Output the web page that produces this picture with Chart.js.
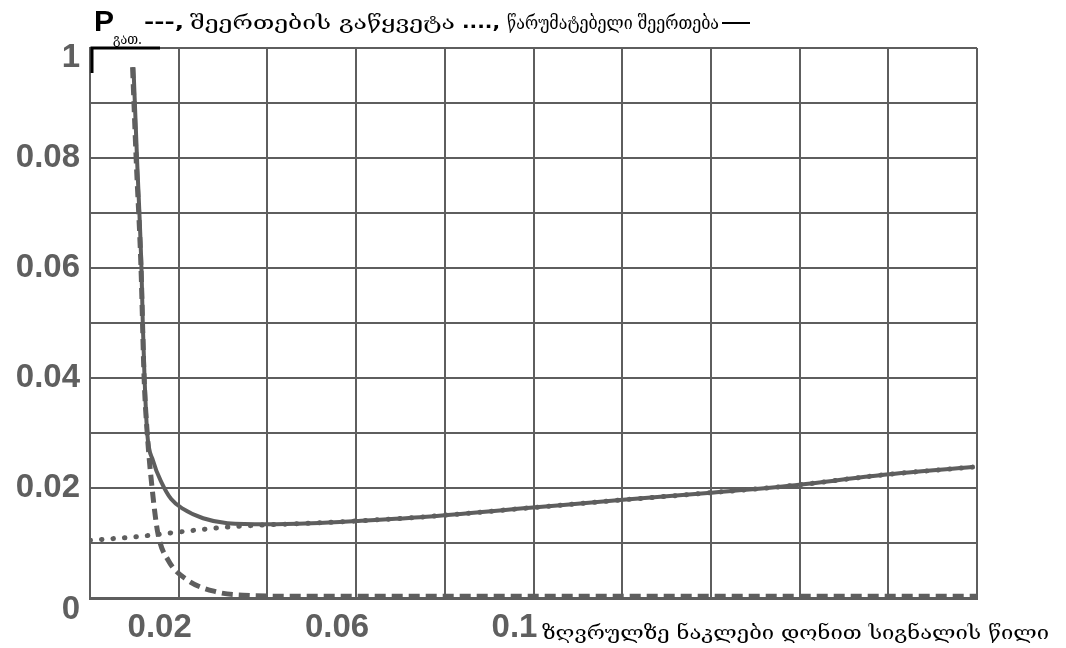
<!DOCTYPE html>
<html>
<head>
<meta charset="utf-8">
<script src="https://cdn.jsdelivr.net/npm/chart.js@4"></script>
<style>
  body { margin: 0; background: #fff; }
</style>
</head>
<body>
<canvas id="mainChart" width="1066" height="648"></canvas>
<script>
// tick labels as printed on the original plot (top label really reads "1")
var yTickLabels = ['0', '', '0.02', '', '0.04', '', '0.06', '', '0.08', '', '1'];
var xTickLabels = ['', '0.02', '', '0.06', '', '0.1', '', '', '', '', ''];

// dashed curve: შეერთების გაწყვეტა
var breakX = [0.0096, 0.0104, 0.0115, 0.0122, 0.0129, 0.0140, 0.0153, 0.0176, 0.0219, 0.0286, 0.0345, 0.05, 0.08, 0.12, 0.16, 0.2];
var breakY = [0.0965, 0.080, 0.060, 0.040, 0.030, 0.020, 0.0118, 0.0069, 0.0033, 0.0011, 0.0005, 0.0003, 0.0003, 0.0003, 0.0003, 0.0003];

// dotted curve: წარუმატებელი შეერთება
var failX = [0, 0.01, 0.02, 0.031, 0.04, 0.05, 0.06, 0.0744, 0.0992, 0.1195, 0.1393, 0.159, 0.179, 0.199];
var failY = [0.0105, 0.0111, 0.0120, 0.0129, 0.0133, 0.0136, 0.0140, 0.0147, 0.0164, 0.0178, 0.0191, 0.0205, 0.0224, 0.0238];

// solid curve: total
var totalX = [0.0098, 0.0106, 0.0116, 0.0119, 0.0123, 0.0129, 0.0142, 0.0162, 0.0183, 0.021, 0.0255, 0.031, 0.04, 0.05, 0.06, 0.0744, 0.0992, 0.1195, 0.1393, 0.159, 0.179, 0.199];
var totalY = [0.0965, 0.080, 0.060, 0.050, 0.040, 0.030, 0.0250, 0.0209, 0.0180, 0.0162, 0.0145, 0.0136, 0.0134, 0.0136, 0.0140, 0.0147, 0.0164, 0.0178, 0.0191, 0.0205, 0.0224, 0.0238];

function toPoints(xs, ys) {
    return xs.map(function (x, i) { return { x: x, y: ys[i] }; });
}

var gray = '#5e5e5e';
var tickFont = { family: 'Liberation Sans', size: 33, weight: 'bold' };

// draws the header, axis caption and the black corner mark
var textPlugin = {
    id: 'texts',
    afterDraw: function (chart) {
        var ctx = chart.ctx;
        var area = chart.chartArea;

        function fitText(str, x, y, w, font) {
            ctx.font = font;
            var m = ctx.measureText(str).width;
            ctx.save();
            ctx.translate(x, y);
            ctx.scale(w / m, 1);
            ctx.fillText(str, 0, 0);
            ctx.restore();
        }

        ctx.save();
        ctx.fillStyle = '#000';
        ctx.textBaseline = 'alphabetic';
        ctx.textAlign = 'left';

        ctx.font = 'bold 30px "Liberation Sans"';
        ctx.fillText('P', 94, 31);
        fitText('გათ.', 113, 44, 29, '14px "DejaVu Serif"');
        fitText('---,', 144, 28, 40, 'bold 18px "DejaVu Sans"');
        fitText('შეერთების გაწყვეტა', 190, 29, 265, '19px "DejaVu Serif"');
        fitText('....,', 462, 28, 38, 'bold 18px "DejaVu Sans"');
        fitText('წარუმატებელი შეერთება', 507, 29, 212, '19px "DejaVu Serif"');
        ctx.fillRect(722, 22, 28, 2);

        fitText('ზღვრულზე ნაკლები დონით სიგნალის წილი', 542, 639, 507, '18px "DejaVu Serif"');

        // black corner at top-left of the plot frame
        ctx.strokeStyle = '#000';
        ctx.lineWidth = 3;
        ctx.beginPath();
        ctx.moveTo(area.left + 2, area.top + 25);
        ctx.lineTo(area.left + 2, area.top);
        ctx.lineTo(area.left + 70, area.top);
        ctx.stroke();
        ctx.restore();
    }
};

function standard_graph() {
    var ctx = document.getElementById('mainChart').getContext('2d');

    var chart = new Chart(ctx, {
        type: 'line',
        data: {
            datasets: [{
                label: 'შეერთების გაწყვეტა',
                data: toPoints(breakX, breakY),
                borderColor: gray,
                borderWidth: 5,
                borderDash: [11, 6],
                pointRadius: 0,
                cubicInterpolationMode: 'monotone'
            }, {
                label: 'წარუმატებელი შეერთება',
                data: toPoints(failX, failY),
                borderColor: gray,
                borderWidth: 5,
                borderDash: [0.5, 11],
                borderCapStyle: 'round',
                pointRadius: 0,
                cubicInterpolationMode: 'monotone'
            }, {
                label: 'ჯამი',
                data: toPoints(totalX, totalY),
                borderColor: gray,
                borderWidth: 4,
                pointRadius: 0,
                cubicInterpolationMode: 'monotone'
            }]
        },
        options: {
            responsive: false,
            animation: false,
            layout: { padding: { left: 0, right: 89, top: 48, bottom: 0 } },
            plugins: {
                legend: { display: false },
                tooltip: { enabled: false }
            },
            scales: {
                x: {
                    type: 'linear',
                    min: 0,
                    max: 0.2,
                    afterFit: function (scale) { scale.height = 50; },
                    ticks: {
                        stepSize: 0.02,
                        autoSkip: false,
                        maxRotation: 0,
                        padding: 10,
                        labelOffset: -19,
                        color: '#5f5f5f',
                        font: tickFont,
                        callback: function (v, i) { return xTickLabels[i]; }
                    },
                    grid: { color: gray, lineWidth: 2, drawTicks: false },
                    border: { color: gray, width: 3 }
                },
                y: {
                    min: 0,
                    max: 0.1,
                    afterFit: function (scale) { scale.width = 90; },
                    ticks: {
                        stepSize: 0.01,
                        autoSkip: false,
                        padding: 10,
                        color: '#5f5f5f',
                        // end labels sit a little below their grid line in the original
                        font: function (c) {
                            var last = yTickLabels.length - 1;
                            if (c.index === 0) return Object.assign({}, tickFont, { lineHeight: '24px' });
                            if (c.index === last) return Object.assign({}, tickFont, { lineHeight: '20px' });
                            return tickFont;
                        },
                        callback: function (v, i) {
                            if (i === 0 || i === yTickLabels.length - 1) return ['', yTickLabels[i]];
                            return yTickLabels[i];
                        }
                    },
                    grid: { color: gray, lineWidth: 2, drawTicks: false },
                    border: { color: gray, width: 2 }
                }
            }
        },
        plugins: [textPlugin]
    });
}

standard_graph();
</script>
</body>
</html>
